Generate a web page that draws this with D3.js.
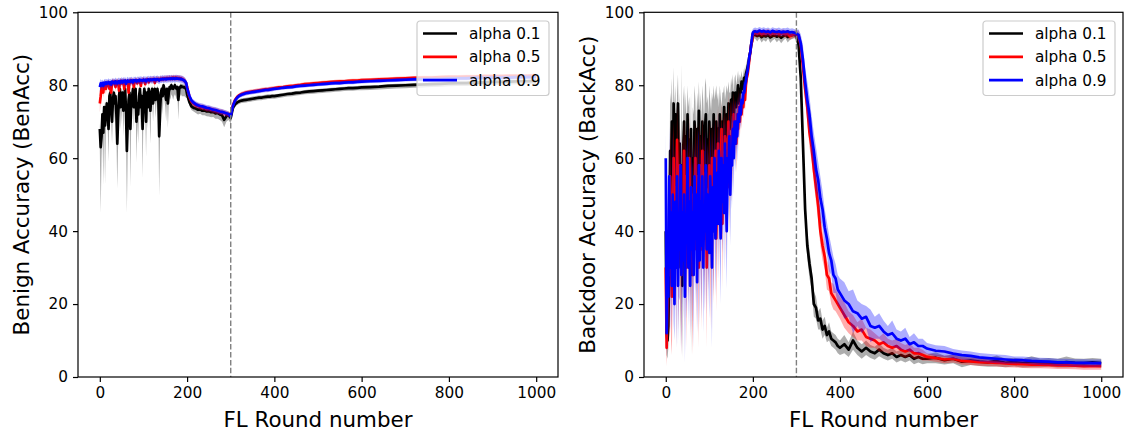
<!DOCTYPE html>
<html><head><meta charset="utf-8">
<script src="https://cdn.jsdelivr.net/npm/d3@7"></script>
<style>body{margin:0;background:#fff}svg{display:block}</style>
</head><body><svg id="c" width="1126" height="435"></svg>
<script>
// ---------- data ----------
const rounds = [
0,2,4,6,8,10,12,14,16,18,20,22,24,26,28,30,32,34,36,38,
40,42,44,46,48,50,52,54,56,58,60,62,64,66,68,70,72,74,76,78,
80,82,84,86,88,90,92,94,96,98,100,102,104,106,108,110,112,114,116,118,
120,122,124,126,128,130,132,134,136,138,140,142,144,146,148,150,152,154,156,158,
160,162,164,166,168,170,172,174,176,178,180,182,184,186,188,190,192,194,196,198,
200,205,210,215,220,225,230,235,240,245,250,255,260,265,270,275,280,285,290,295,
300,305,310,315,320,325,330,335,340,345,350,355,360,365,370,375,380,385,390,395,
400,410,420,430,440,450,460,470,480,490,500,510,520,530,540,550,560,570,580,590,
600,620,640,660,680,700,720,740,760,780,800,820,840,860,880,900,920,940,960,980,1000];
const seriesNames = ["alpha 0.1","alpha 0.5","alpha 0.9"];
const xTicks = [0,200,400,600,800,1000];
const yTicks = [0,20,40,60,80,100];
const attackStart = 300;

// ---- Benign accuracy (left) ----
const benBlack = [
68,63,66,72,67,74,69,72,75,73, 68,77,78,74,70,76,78,75,77,72,
64,71,77,79,74,76,78,73,77,79, 73,62,70,76,78,68,75,77,79,74,
77,79,70,75,72,77,79,74,77,68, 76,79,77,70,78,74,79,76,73,78,
79,75,78,79,76,78,79,77,66,72, 78,79,77,80,79,78,76,79,75,78,
79.5,79,80,79.5,79,79.5,80,79.5,79,79.5, 76,79,79.5,79.8,79.5,79.6,79.4,79.5,79.2,78.8,
77.5,75.5,74.2,73.8,73.6,73.3,73.4,73,73.1,72.8,72.9,72.6,72.7,72.3,72.4,72,71.8,70.5,71.5,71.8,
71,73.8,74.8,75.3,75.6,75.8,75.9,76,76.1,76.2,76.3,76.4,76.5,76.6,76.6,76.7,76.8,76.9,76.9,77,
77,77.2,77.4,77.6,77.7,77.9,78,78.2,78.3,78.4,78.5,78.6,78.7,78.8,78.9,79,79.1,79.2,79.2,79.3,
79.4,79.5,79.6,79.8,79.9,80,80.1,80.2,80.3,80.4,80.5,80.6,80.6,80.7,80.8,80.9,80.9,81,81.1,81.1,81.2];
const benBlackLow = [
62,45,60,68,52.5,70,52.7,68,71,69, 59,73,75,70,64,72,75,70,74,66,
51.7,64,74,76,68,72,75,66,74,76, 66,45,62,72,75,52,70,74,76,68,
74,76,58.7,70,64,74,76,68,74,54.5, 72,76,73,60.4,75,68,76,72,64,75,
76,70,75,76,71,75,76,73,49.6,66, 75,76,72,77,76,74,70,76,68.2,75,
77,76,77.5,77,76,77,77.5,77,76,77, 70.5,77,77,77.5,77,77,77,77,76.8,76.5,
76.5,74.5,73.2,72.8,72.4,72,72.2,71.8,71.8,71.5,71.4,71.2,71.3,70.8,70.8,70.5,70,68.5,70,70.5,
69.5,72.8,74,74.6,74.9,75.1,75.2,75.3,75.4,75.5,75.6,75.7,75.8,75.9,75.9,76,76.1,76.2,76.2,76.3,
76.3,76.5,76.7,76.9,77,77.2,77.3,77.5,77.6,77.7,77.8,77.9,78,78.1,78.2,78.3,78.4,78.5,78.5,78.6,
78.6,78.7,78.8,79,79.1,79.2,79.3,79.4,79.5,79.6,79.7,79.8,79.8,79.9,80,80.1,80.1,80.2,80.3,80.3,80.4];
const benBlackSd = [
1.5,2,1.5,1.5,2,1.5,1.5,1.5,1.2,1.5, 1.5,1.2,1.2,1.5,1.5,1.2,1.2,1.5,1.2,1.5,
2,1.5,1.2,1.2,1.5,1.2,1.2,1.5,1.2,1.2, 1.5,2,1.5,1.2,1.2,1.5,1.2,1.2,1,1.2,
1.2,1,1.5,1.2,1.5,1.2,1,1.2,1.2,1.5, 1.2,1,1.2,1.5,1,1.2,1,1.2,1.2,1,
1,1.2,1,1,1.2,1,1,1,1.5,1.2, 1,1,1,0.8,1,1,1.2,1,1,1,
0.8,0.8,0.8,0.8,0.8,0.8,0.8,0.8,0.8,0.8, 1,0.8,0.8,0.8,0.8,0.8,0.8,0.8,0.8,0.8,
0.8,0.8,0.8,0.8,0.8,0.8,0.8,0.8,0.8,0.8,0.8,0.8,0.8,0.8,0.8,0.8,0.8,0.8,0.8,0.8,
0.6,0.6,0.6,0.6,0.6,0.6,0.6,0.6,0.6,0.6,0.6,0.6,0.6,0.6,0.6,0.6,0.6,0.6,0.6,0.6,
0.5,0.5,0.5,0.5,0.5,0.5,0.5,0.5,0.5,0.5,0.5,0.5,0.5,0.5,0.5,0.5,0.5,0.5,0.5,0.5,
0.5,0.5,0.5,0.5,0.5,0.5,0.5,0.5,0.5,0.5,0.5,0.5,0.5,0.5,0.5,0.5,0.5,0.5,0.5,0.5,0.5];
const benRed = [
75,77,79.5,80,78,80.5,80,79,80.5,80.3, 80.5,79,80.8,78,80.8,81,80.5,81,79.5,81,
80.8,81,78.5,81,81.2,80.5,81,81.2,79,81.2, 81,80.6,81.2,78,81.2,81.3,80.8,81.3,81,79.5,
81.3,81.2,81.4,80.5,81.3,81.4,81,79.8,81.4,81.3, 81.5,81.2,80.3,81.5,81.4,81.6,80.8,81.5,81.6,81.4,
81.6,81.5,81.7,80.6,81.6,81.7,81.5,81.7,81.4,81.7, 81.8,81.6,81.8,81.7,81.9,81.7,81.8,82,81.8,81.9,
82,81.8,82,81.9,82.1,81.9,82,82.1,81.9,82, 81.9,82,81.8,81.9,81.7,81.6,81.5,81.3,81,80.5,
79.5,77,75.5,75,74.5,74.4,74,74,73.8,73.5,73.6,73.3,73.2,73,72.9,72.7,72.6,72.4,72.2,72,
72,74.5,76,76.8,77.3,77.6,77.8,78,78.1,78.2,78.3,78.4,78.5,78.6,78.7,78.8,78.9,78.9,79,79.1,
79.2,79.4,79.5,79.7,79.8,80,80.1,80.3,80.4,80.5,80.6,80.7,80.8,80.9,81,81.1,81.1,81.2,81.3,81.3,
81.4,81.5,81.6,81.7,81.8,81.9,82,82.1,82.1,82.2,82.3,82.3,82.4,82.4,82.5,82.5,82.5,82.6,82.6,82.6,82.7];
const benRedSd = [
2.5,2,1.5,1.2,1.5,1,1.2,1.5,1,1, 1,1.5,1,1.5,1,0.8,1,0.8,1.2,0.8,
1,0.8,1.5,0.8,0.8,1,0.8,0.8,1.2,0.8, 0.8,1,0.8,1.5,0.8,0.8,1,0.8,0.8,1.2,
0.8,0.8,0.8,1,0.8,0.8,0.8,1,0.8,0.8, 0.8,0.8,1,0.8,0.8,0.8,1,0.8,0.8,0.8,
0.8,0.8,0.8,1,0.8,0.8,0.8,0.8,0.8,0.8, 0.8,0.8,0.8,0.8,0.8,0.8,0.8,0.8,0.8,0.8,
0.8,0.8,0.8,0.8,0.8,0.8,0.8,0.8,0.8,0.8, 0.8,0.8,0.8,0.8,0.8,0.8,0.8,0.8,0.8,0.8,
0.8,0.8,0.8,0.8,0.8,0.8,0.8,0.8,0.8,0.8,0.8,0.8,0.8,0.8,0.8,0.8,0.8,0.8,0.8,0.8,
0.6,0.6,0.6,0.6,0.6,0.6,0.6,0.6,0.6,0.6,0.6,0.6,0.6,0.6,0.6,0.6,0.6,0.6,0.6,0.6,
0.5,0.5,0.5,0.5,0.5,0.5,0.5,0.5,0.5,0.5,0.5,0.5,0.5,0.5,0.5,0.5,0.5,0.5,0.5,0.5,
0.5,0.5,0.5,0.5,0.5,0.5,0.5,0.5,0.5,0.5,0.5,0.5,0.5,0.5,0.5,0.5,0.5,0.5,0.5,0.5,0.5];
const benBlue = [
79.5,80.5,80,80.6,79.8,80.7,80.3,80.8,80.4,80.6, 80.9,80.4,80.8,80.2,81,80.7,80.9,80.5,81.1,80.8,
80.5,81,81.1,80.6,81,81.2,80.7,81.2,81,81.3, 80.4,81.1,81.3,81,81.2,80.9,81.3,81.2,80.8,81.4,
81.2,81.4,81,81.3,81.4,81.1,81.5,81.3,81.4,81.2, 81.5,81.3,81.5,81.1,81.5,81.4,81.6,81.3,81.6,81.5,
81.4,81.6,81.5,81.7,81.4,81.6,81.7,81.5,81.3,81.6, 81.7,81.6,81.8,81.6,81.7,81.8,81.6,81.8,81.7,81.8,
81.8,81.7,81.9,81.7,81.8,81.9,81.7,81.8,81.9,81.8, 81.8,81.7,81.8,81.6,81.7,81.5,81.4,81.2,81,80.6,
79.3,77.2,75.8,75.2,74.8,74.5,74.3,74.2,74,73.8,73.7,73.5,73.3,73.2,73,72.8,72.7,72.5,72.3,72.1,
71.5,74.3,75.8,76.6,77.1,77.4,77.6,77.8,77.9,78,78.1,78.2,78.3,78.4,78.5,78.6,78.7,78.7,78.8,78.9,
79,79.1,79.3,79.4,79.5,79.7,79.8,79.9,80,80.1,80.2,80.3,80.4,80.5,80.6,80.6,80.7,80.8,80.8,80.9,
81,81.1,81.2,81.3,81.4,81.5,81.6,81.6,81.7,81.7,81.8,81.9,81.9,82,82,82.1,82.1,82.1,82.2,82.2,82.2];
const benBlueSd = [
1.5,1.2,1.2,1,1.2,1,1.2,1,1.2,1, 1,1.2,1,1.2,1,1,1,1.2,1,1,
1.2,1,1,1.2,1,1,1.2,1,1,1, 1.2,1,1,1,1,1.2,1,1,1,1,
1,1,1,1,1,1,1,1,1,1, 1,1,1,1,1,1,1,1,1,1,
1,1,1,1,1,1,1,1,1,1, 1,1,1,1,1,1,1,1,1,1,
1,1,1,1,1,1,1,1,1,1, 1,1,1,1,1,1,1,1,1,1,
0.8,0.8,0.8,0.8,0.8,0.8,0.8,0.8,0.8,0.8,0.8,0.8,0.8,0.8,0.8,0.8,0.8,0.8,0.8,0.8,
0.6,0.6,0.6,0.6,0.6,0.6,0.6,0.6,0.6,0.6,0.6,0.6,0.6,0.6,0.6,0.6,0.6,0.6,0.6,0.6,
0.5,0.5,0.5,0.5,0.5,0.5,0.5,0.5,0.5,0.5,0.5,0.5,0.5,0.5,0.5,0.5,0.5,0.5,0.5,0.5,
0.5,0.5,0.5,0.5,0.5,0.5,0.5,0.5,0.5,0.5,0.5,0.5,0.5,0.5,0.5,0.5,0.5,0.5,0.5,0.5,0.5];

// ---- Backdoor accuracy (right) ----
const backBlack = [
40,12,10,14,32,62,55,70,45,75, 60,72,48,66,75,52,64,30,58,25,
62,70,54,66,48,72,58,65,42,68, 28,60,52,70,64,45,68,58,73,55,
66,50,70,62,48,68,72,57,65,52, 70,62,55,68,60,72,58,66,70,62,
68,60,72,65,58,70,66,74,62,70, 72,66,75,70,68,76,72,78,70,76,
78,74,77,80,75,79,78,81,79,80, 82,80,83,84,85,86,88,89,91,92,
94,93.8,93.5,93.9,93.2,93.6,93.4,93.8,93.1,93.5,93.7,93.3,93.6,93,93.5,93.8,93.2,93.6,93.7,93.9,
93.5,91,82,64,46,36,31,27,20,19,15.5,16,13,14,11.5,12.5,10.5,10,9.5,8.5,
8,9,7.5,10,8,7,8,7,6.5,7.5,6.5,6,6.5,5.5,6,5.5,6,5,5.5,5,
5,5.3,4.6,5,4.2,4.5,4.2,4,4.4,3.9,4.1,3.8,4.2,3.9,4,3.8,4.1,3.9,3.8,4,3.8];
const backBlackSd = [
10,6,5,6,15,16,20,12,22,10, 14,8,20,12,8,18,14,22,28,20,
14,10,18,12,20,8,16,12,22,10, 22,14,20,10,12,22,10,16,8,18,
12,20,10,14,22,12,10,18,12,20, 10,14,18,10,16,8,18,12,10,14,
10,14,8,12,16,8,12,6,14,8, 8,12,6,8,10,6,8,5,8,6,
5,6,5,4,6,4,4,3,3,3, 3,3,2.5,2.5,2,2,2,1.5,1.5,1.5,
1.2,1,1.5,1,1.5,1.2,1.5,1,1.5,1.2,1,1.5,1.2,1.5,1.2,1,1.5,1.2,1,1,
1,2,3,4,4,3.5,4,3,3.5,3,2.5,3,2.5,2.5,2,2.5,2,2,2,2,
2,2.5,2,2.5,2,2,2,1.8,1.8,1.8,1.5,1.5,1.5,1.5,1.5,1.5,1.5,1.5,1.5,1.5,
1.2,1.5,1.2,1.2,1.5,1.2,1.2,1.2,1.5,1.2,1.2,1.2,1.5,1.2,1.2,1.2,1.5,1.2,1.2,1.2,1.2];
const backRed = [
30,8,25,40,28,55,32,22,45,60, 38,52,30,65,45,35,58,40,28,50,
42,62,35,55,30,48,40,60,32,52, 38,28,50,42,60,35,55,45,30,58,
48,35,62,44,52,38,56,30,50,42, 58,45,35,60,48,40,55,62,38,52,
64,45,58,50,68,42,60,55,66,48, 62,56,70,52,66,60,68,62,72,66,
70,64,72,68,74,70,75,72,76,74, 78,76,80,82,83,85,87,89,91,92,
94,94.3,94.1,94.4,94,94.3,94.2,94.5,94,94.3,94.1,94.4,94,94.2,94.3,94,94.2,93.5,93.8,94,
94,93.5,91,85,79,74,67,63,57,52,47,40,36,33,28,27,23,22,21,20,
19,17,15,14,12.5,13,11,10.5,10,9,9.5,8.5,8,8.5,7.5,7,7.5,6.5,6.5,6,
5.5,5.2,4.8,5,4.4,4.3,4.1,4,3.9,3.7,3.6,3.5,3.4,3.4,3.3,3.2,3.2,3.1,3,3,3];
const backRedSd = [
15,5,15,18,20,14,22,16,20,10, 20,14,22,10,18,22,12,20,22,16,
18,10,22,14,22,16,20,12,22,14, 20,22,14,18,10,22,14,18,22,12,
16,22,10,18,14,20,12,22,14,18, 12,18,22,10,16,20,12,10,20,14,
10,18,12,14,8,18,12,14,8,16, 10,12,8,14,10,12,8,10,6,8,
6,8,5,6,5,5,4,4,3,3, 3,3,2.5,2,2,2,1.5,1.5,1.5,1.5,
1,1,1,1,1,1,1,1,1,1,1,1,1,1,1,1,1,1,1,1,
1,1.5,2,3,3.5,4,4,4,4,4,4.5,4,4,3.5,4,3.5,3,3.5,3,3,
3,3.5,3,3,2.5,3,2.5,2.5,2,2,2.5,2,2,2,1.8,1.8,1.8,1.5,1.5,1.5,
1,1,1,1,1,1,1,1,1,1,1,1,1,1,1,1,1,1,1,1,1];
const backBlue = [
60,12,35,22,55,30,45,25,50,35, 20,48,30,55,25,42,35,58,28,45,
32,50,22,44,38,60,30,48,25,52, 35,45,28,55,38,50,26,46,58,32,
48,36,55,30,46,40,58,35,50,42, 34,55,45,30,52,40,60,38,48,56,
42,62,50,38,60,48,58,45,64,52, 40,60,55,66,50,62,58,68,60,70,
64,70,66,72,70,74,72,76,75,78, 78,80,81,83,84,86,88,89,91,93,
94.5,94.8,94.6,95,94.7,94.9,94.6,94.8,94.5,94.9,94.7,94.6,94.8,94.5,94.7,94.6,94.8,94.5,94.6,94.4,
94.2,93.8,91.5,87,81,76,72,66,62,57,54,49,46,41,38,34,32,28,27,24,
23,21,20,18,17.5,16,16.5,14,13.5,14,12.5,11.5,12,10.5,10,10.5,9,9.5,8.5,8.5,
7.8,7.2,7,6.4,6,5.8,5.4,5.2,5,4.8,4.6,4.6,4.4,4.3,4.2,4,4,3.9,3.9,3.8,3.8];
const backBlueSd = [
8,6,20,10,14,18,16,12,18,20, 10,18,22,12,16,20,14,10,22,18,
16,14,18,20,22,10,16,18,14,12, 22,14,20,10,18,16,14,20,10,18,
14,20,12,18,16,22,10,18,14,16, 18,12,16,22,14,18,10,16,14,10,
16,10,14,18,10,14,12,16,8,12, 16,10,12,8,14,10,12,8,10,6,
8,6,7,5,5,4,4,3,3,3, 3,2.5,2.5,2,2,2,1.5,1.5,1.5,1.5,
1,1,1,1,1,1,1,1,1,1,1,1,1,1,1,1,1,1,1,1,
1,1.5,2.5,4,4,5,5,5.5,5,6,5,6,5,5,4.5,5,4,5,4,4,
4,5,3.5,6,3.5,4,3,4.5,3,3.5,3,2.5,3.5,2.5,2.5,3,2,2.5,2,2,
1.5,1.5,1.5,1.3,1.3,1.2,1.2,1.2,1.2,1.2,1,1,1,1,1,1,1,1,1,1,1];

// ---------- drawing ----------
const colors = ["#000000","#ff0000","#0000ff"];
const FONT = "DejaVu Sans, Verdana, sans-serif";
const svg = d3.select("#c");

const panels = [
  {left:78, right:558, top:12.3, bottom:377, ylabel:"Benign Accuracy (BenAcc)", ylabX:29, legX:417,
   series:[{m:benBlack, sd:benBlackSd, lo:benBlackLow},{m:benRed, sd:benRedSd},{m:benBlue, sd:benBlueSd}]},
  {left:644, right:1123, top:12.3, bottom:377, ylabel:"Backdoor Accuracy (BackAcc)", ylabX:595, legX:983,
   series:[{m:backBlack, sd:backBlackSd},{m:backRed, sd:backRedSd},{m:backBlue, sd:backBlueSd}]}
];

panels.forEach((p, pi) => {
  const x = d3.scaleLinear().domain([-50,1050]).range([p.left, p.right]);
  const y = d3.scaleLinear().domain([0,100]).range([p.bottom, p.top]);
  const g = svg.append("g");
  const clipId = "clip" + pi;
  svg.append("defs").append("clipPath").attr("id", clipId)
    .append("rect").attr("x", p.left).attr("y", p.top)
    .attr("width", p.right - p.left).attr("height", p.bottom - p.top);
  const plot = g.append("g").attr("clip-path", `url(#${clipId})`);

  const area = d3.area().x(d => x(d.r)).y0(d => y(d.lo)).y1(d => y(d.hi));
  const line = d3.line().x(d => x(d.r)).y(d => y(d.m));

  p.series.forEach((s, si) => {
    const rows = rounds.map((r, i) => ({
      r, m: s.m[i],
      lo: Math.max(0, s.lo ? s.lo[i] : s.m[i] - s.sd[i]),
      hi: Math.min(100, s.m[i] + s.sd[i])
    })).filter(d => d.m !== undefined);
    plot.append("path").datum(rows).attr("d", area)
      .attr("fill", colors[si]).attr("fill-opacity", 0.32).attr("stroke", "none");
    plot.append("path").datum(rows).attr("d", line)
      .attr("fill", "none").attr("stroke", colors[si]).attr("stroke-width", 2.7)
      .attr("stroke-linejoin", "round");
  });

  g.append("line").attr("x1", x(attackStart)).attr("x2", x(attackStart))
    .attr("y1", y(100)).attr("y2", y(0))
    .attr("stroke", "#808080").attr("stroke-width", 1.4).attr("stroke-dasharray", "5.5,2.4");

  const xa = g.append("g").attr("transform", `translate(0,${p.bottom})`)
    .call(d3.axisBottom(x).tickValues(xTicks).tickSize(5).tickPadding(5).tickFormat(d3.format("d")));
  const ya = g.append("g").attr("transform", `translate(${p.left},0)`)
    .call(d3.axisLeft(y).tickValues(yTicks).tickSize(5).tickPadding(5).tickFormat(d3.format("d")));
  [xa, ya].forEach(a => {
    a.select(".domain").remove();
    a.selectAll(".tick line").attr("stroke", "#000").attr("stroke-width", 1.2);
    a.selectAll(".tick text").attr("font-family", FONT).attr("font-size", 15.3).attr("fill", "#000");
  });

  g.append("rect").attr("x", p.left).attr("y", p.top)
    .attr("width", p.right - p.left).attr("height", p.bottom - p.top)
    .attr("fill", "none").attr("stroke", "#000").attr("stroke-width", 1.2);

  g.append("text").attr("x", (p.left + p.right) / 2).attr("y", 426.5)
    .attr("text-anchor", "middle").attr("font-family", FONT).attr("font-size", 21.4)
    .text("FL Round number");
  g.append("text").attr("transform", `translate(${p.ylabX},${(p.top + p.bottom) / 2}) rotate(-90)`)
    .attr("text-anchor", "middle").attr("font-family", FONT).attr("font-size", 21.4)
    .text(p.ylabel);

  const lg = g.append("g").attr("transform", `translate(${p.legX},21)`);
  lg.append("rect").attr("width", 132).attr("height", 74.5).attr("rx", 3)
    .attr("fill", "#fff").attr("fill-opacity", 0.8).attr("stroke", "#cccccc").attr("stroke-width", 1.2);
  seriesNames.forEach((n, i) => {
    const cy = 12.5 + 23.3 * i;
    lg.append("line").attr("x1", 6).attr("x2", 40).attr("y1", cy).attr("y2", cy)
      .attr("stroke", colors[i]).attr("stroke-width", 2.7);
    lg.append("text").attr("x", 52).attr("y", cy).attr("dy", "0.36em")
      .attr("font-family", FONT).attr("font-size", 15.3).text(n);
  });
});
</script>
</body></html>
